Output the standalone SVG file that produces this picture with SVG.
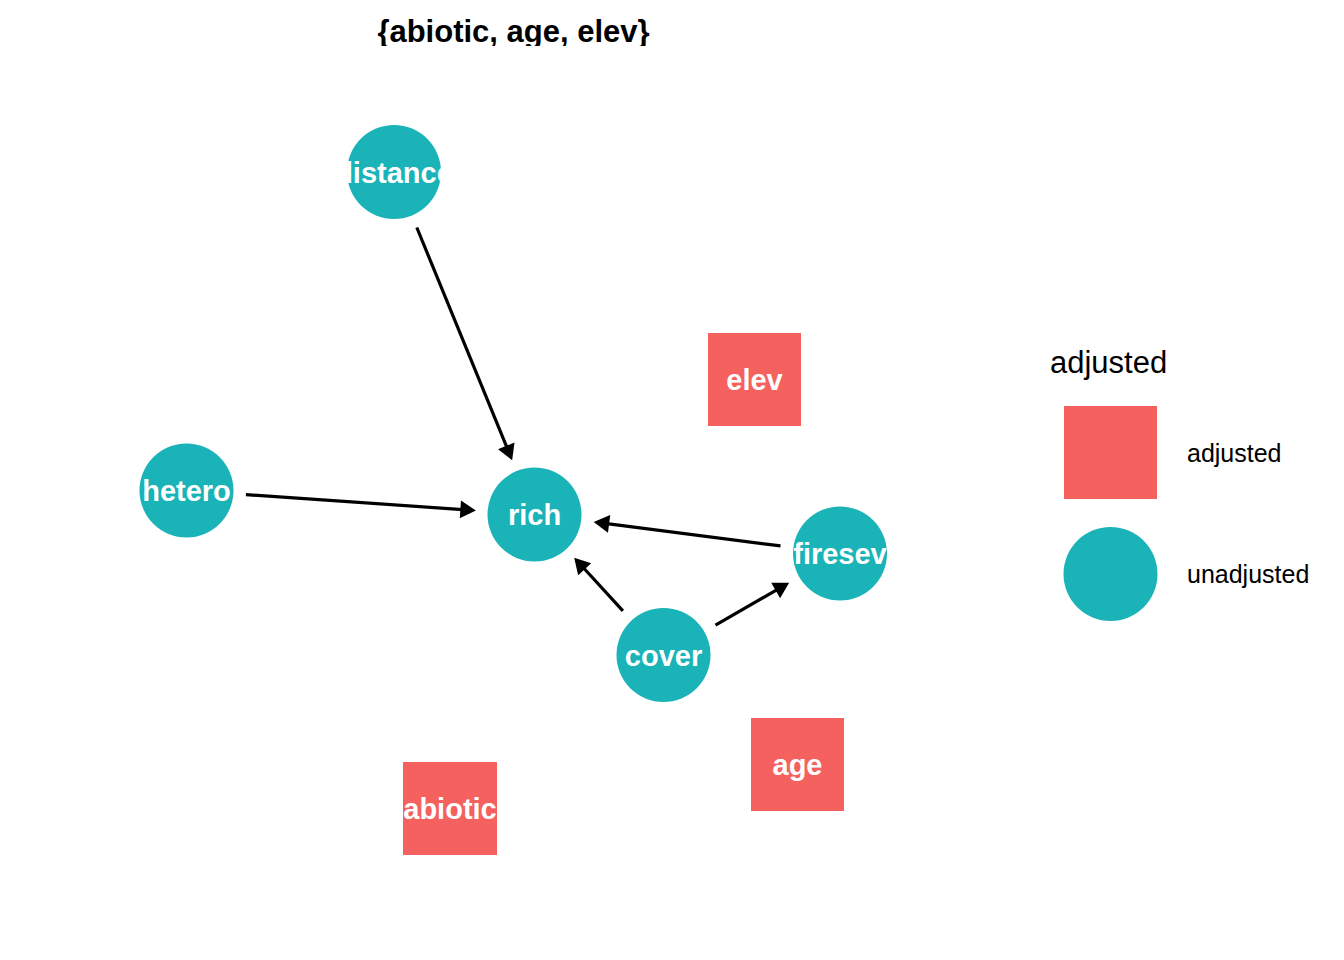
<svg xmlns="http://www.w3.org/2000/svg" width="1344" height="960" viewBox="0 0 1344 960">
<style>
.adj{fill:#F4615E}
.unadj{fill:#19B3B8}
.lbl{font-family:"Liberation Sans",Arial,sans-serif;font-weight:bold;font-size:29px;fill:#FFFFFF;text-anchor:middle}
.edge{stroke:#000000;stroke-width:3.2;fill:none}
.leg{font-family:"Liberation Sans",Arial,sans-serif;fill:#000000}
</style>
<defs>
<marker id="arr" markerUnits="userSpaceOnUse" markerWidth="20" markerHeight="20" viewBox="-3 -9 17 18" refX="0" refY="0" orient="auto">
<path d="M-2,-8 L12,0 L-2,8 Z" fill="#000000"/>
</marker>
<clipPath id="clipTitle"><rect x="0" y="0" width="1344" height="46"/></clipPath>
<clipPath id="clipDistance"><rect x="347" y="125" width="94" height="94"/></clipPath>
<clipPath id="clipFiresev"><rect x="793" y="506.5" width="94" height="94"/></clipPath>
</defs>
<rect x="0" y="0" width="1344" height="960" fill="#FFFFFF"/>
<text x="513.5" y="42" clip-path="url(#clipTitle)" font-family="Liberation Sans, Arial, sans-serif" font-weight="bold" font-size="31" text-anchor="middle" fill="#000000">{abiotic, age, elev}</text>
<g id="edges">
<line class="edge" x1="416.8" y1="227.5" x2="507.1" y2="447.9" marker-end="url(#arr)"/>
<line class="edge" x1="245.9" y1="494.6" x2="462.6" y2="509.6" marker-end="url(#arr)"/>
<line class="edge" x1="780.5" y1="545.9" x2="606.9" y2="523.6" marker-end="url(#arr)"/>
<line class="edge" x1="622.9" y1="610.8" x2="583.2" y2="567.5" marker-end="url(#arr)"/>
<line class="edge" x1="715.5" y1="625.1" x2="777.6" y2="589.4" marker-end="url(#arr)"/>
</g>
<g id="node-distance">
<circle class="unadj" cx="394" cy="172" r="47"/>
<text class="lbl" x="394" y="182.5" clip-path="url(#clipDistance)">distance</text>
</g>
<g id="node-hetero">
<circle class="unadj" cx="186.5" cy="490.5" r="47"/>
<text class="lbl" x="186.5" y="501">hetero</text>
</g>
<g id="node-rich">
<circle class="unadj" cx="534.5" cy="514.5" r="47"/>
<text class="lbl" x="534.5" y="525">rich</text>
</g>
<g id="node-firesev">
<circle class="unadj" cx="840" cy="553.5" r="47"/>
<text class="lbl" x="840" y="564" clip-path="url(#clipFiresev)">firesev</text>
</g>
<g id="node-cover">
<circle class="unadj" cx="663.5" cy="655" r="47"/>
<text class="lbl" x="663.5" y="665.5">cover</text>
</g>
<g id="node-elev">
<rect class="adj" x="708" y="333" width="93" height="93"/>
<text class="lbl" x="754.5" y="390">elev</text>
</g>
<g id="node-age">
<rect class="adj" x="751" y="718" width="93" height="93"/>
<text class="lbl" x="797.5" y="775">age</text>
</g>
<g id="node-abiotic">
<rect class="adj" x="403" y="762" width="94" height="93"/>
<text class="lbl" x="450" y="819">abiotic</text>
</g>
<g id="legend">
<text class="leg" x="1050" y="373" font-size="31">adjusted</text>
<rect class="adj" x="1064" y="406" width="93" height="93"/>
<text class="leg" x="1187" y="462" font-size="25">adjusted</text>
<circle class="unadj" cx="1110.5" cy="574" r="47"/>
<text class="leg" x="1187" y="583" font-size="25">unadjusted</text>
</g>
</svg>
